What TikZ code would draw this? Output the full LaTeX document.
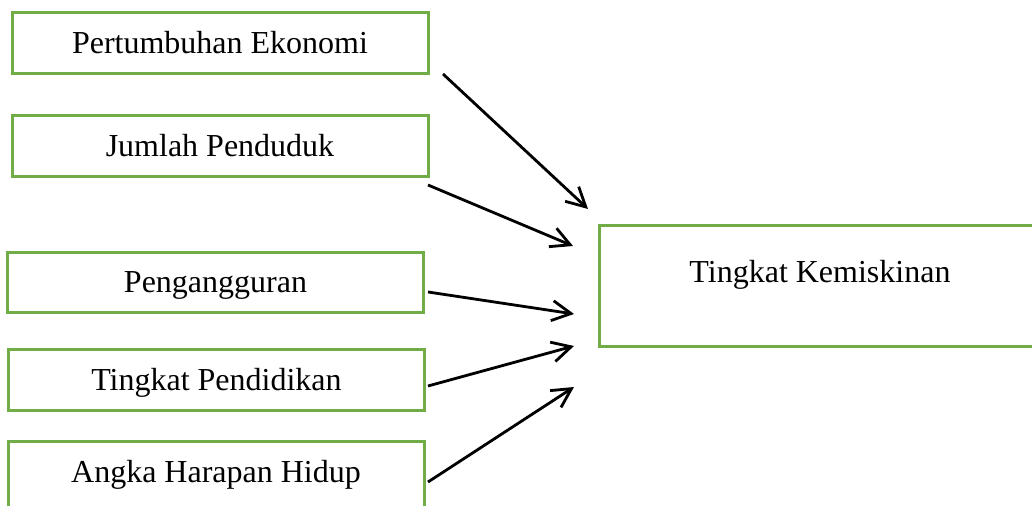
\documentclass[tikz,border=0pt]{standalone}
\usepackage{fontspec}
\setmainfont{Liberation Serif}
\usepackage{xcolor}
\usetikzlibrary{arrows.meta, calc}
\definecolor{boxgreen}{HTML}{70AD47}

\begin{document}
\begin{tikzpicture}[
  x=0.5pt, y=-0.5pt,
  box/.style={draw=boxgreen, line width=1.5pt, minimum width=208pt, minimum height=30.5pt, inner sep=0pt, outer sep=0pt, text height=11pt, text depth=1pt, font=\fontsize{16}{19}\selectfont},
  arrow/.style={-{Straight Barb[length=9.5pt, width=10pt]}, line width=1.4pt},
]
\useasboundingbox (0,0) rectangle (1032,506);
\clip (0,0) rectangle (1032,506);

% Factors
\node[box] (ekonomi) at (220,43.5) {Pertumbuhan Ekonomi};
\node[box] (penduduk) at (220,146.5) {Jumlah Penduduk};
\node[box, minimum height=30pt] (pengangguran) at (215.5,283) {Pengangguran};
\node[box] (pendidikan) at (216.5,380.5) {Tingkat Pendidikan};
\node[box, minimum height=40pt, text depth=10.4pt] (harapan) at (216,482) {Angka Harapan Hidup};

% Outcome
\node[box, minimum width=221pt, minimum height=60.5pt, text depth=14.9pt] (kemiskinan) at (820,286.5) {Tingkat Kemiskinan};

% Arrows
\draw[arrow] ($(ekonomi.south east)+(15,0)$) -- ($(kemiskinan.north west)+(-11,-17)$);
\draw[arrow] ($(penduduk.south east)+(0,8)$) -- ($(kemiskinan.north west)+(-26,20)$);
\draw[arrow] ($(pengangguran.east)+(4.5,9)$) -- ($(kemiskinan.west)+(-25,27.5)$);
\draw[arrow] ($(pendidikan.east)+(3.5,5.5)$) -- ($(kemiskinan.south west)+(-25,-1)$);
\draw[arrow] ($(harapan.east)+(4,0)$) -- ($(kemiskinan.south west)+(-25,40)$);

\end{tikzpicture}
\end{document}
